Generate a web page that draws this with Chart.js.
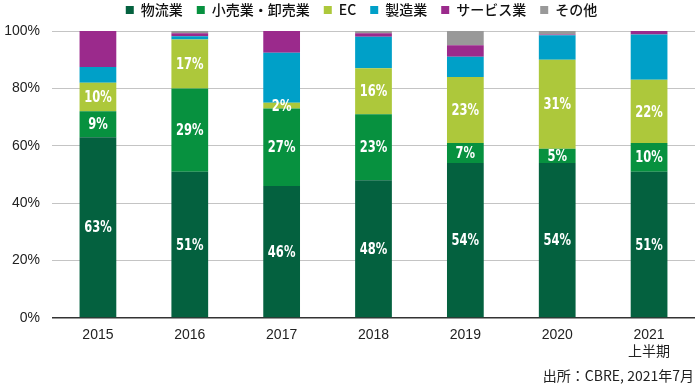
<!DOCTYPE html>
<html>
<head>
<meta charset="utf-8">
<script src="https://cdn.jsdelivr.net/npm/chart.js@4"></script>
<style>
  html, body { margin: 0; padding: 0; background: #fff; }
  #wrap { position: relative; width: 700px; height: 388px; }
  #source {
    position: absolute; right: 6px; top: 366px;
    font: 14px "Noto Sans CJK JP", "Liberation Sans", sans-serif;
    color: #222; line-height: 18px;
  }
</style>
</head>
<body>
<div id="wrap">
  <canvas id="shareChart" width="700" height="388"></canvas>
  <div id="source">出所：CBRE, 2021年7月</div>
</div>
<script>
// 用途別の割合（%）
const years = ["2015", "2016", "2017", "2018", "2019", "2020", ["2021", "上半期"]];
const logistics = [63, 51, 46, 48, 54, 54, 51];
const retail = [9, 29, 27, 23, 7, 5, 10];
const ecommerce = [10, 17, 2, 16, 23, 31, 22];
const manufacturing = [5.5, 1.2, 17.4, 11, 7, 8.5, 15.8];
const services = [12.5, 1, 7.6, 1.2, 4, 0.3, 1.2];
const others = [0, 0.8, 0, 0.8, 5, 1.2, 0];
const yTicks = [0, 20, 40, 60, 80, 100];

const seriesNames = ["物流業", "小売業・卸売業", "EC", "製造業", "サービス業", "その他"];
const seriesData = [logistics, retail, ecommerce, manufacturing, services, others];
const colors = ["#04613f", "#07913f", "#adc83b", "#00a0c8", "#9b2a8c", "#999999"];
const labelled = 3; // 物流業・小売業・EC だけ数値を表示

const cjk = "'Noto Sans CJK JP', 'Liberation Sans', sans-serif";

const barLabels = {
    id: "barLabels",
    afterDatasetsDraw(chart) {
        const ctx = chart.ctx;
        ctx.save();
        ctx.fillStyle = "#fff";
        ctx.font = "bold 16px 'DejaVu Sans Condensed', 'Liberation Sans', sans-serif";
        ctx.textAlign = "center";
        ctx.textBaseline = "middle";
        for (let d = 0; d < labelled; d++) {
            const meta = chart.getDatasetMeta(d);
            meta.data.forEach((bar, i) => {
                const p = bar.getProps(["x", "y", "base"], true);
                const v = chart.data.datasets[d].data[i];
                ctx.save();
                ctx.translate(p.x, (p.y + p.base) / 2 + 1);
                ctx.scale(0.8, 1);
                ctx.fillText(Math.round(v) + "%", 0, 0);
                ctx.restore();
            });
        }
        ctx.restore();
    }
};

// 凡例を上に詰めて少し右へ
const legendFit = {
    id: "legendFit",
    beforeInit(chart) {
        const lg = chart.legend;
        const fit = lg.fit;
        lg.fit = function () {
            fit.call(this);
            this.height = 31;
        };
        const draw = lg.draw;
        lg.draw = function () {
            this.ctx.save();
            this.ctx.translate(14, -11);
            draw.apply(this, arguments);
            this.ctx.restore();
        };
    }
};

new Chart(document.getElementById("shareChart"), {
    type: "bar",
    data: {
        labels: years,
        datasets: seriesNames.map((name, i) => ({
            label: name,
            data: seriesData[i],
            backgroundColor: colors[i],
            borderWidth: 0,
            barPercentage: 0.4,
            categoryPercentage: 1
        }))
    },
    options: {
        responsive: false,
        animation: false,
        layout: { padding: { right: 5 } },
        plugins: {
            legend: {
                position: "top",
                labels: {
                    boxWidth: 8,
                    boxHeight: 8,
                    padding: 14,
                    color: "#111",
                    font: { size: 14, family: cjk, weight: "500" }
                }
            },
            tooltip: { enabled: false }
        },
        scales: {
            x: {
                stacked: true,
                grid: { display: false },
                border: { display: false },
                ticks: {
                    color: "#222",
                    padding: 1,
                    font: { size: 14, family: "'Liberation Sans', " + cjk },
                    maxRotation: 0
                },
                afterFit(s) { s.height = 70; }
            },
            y: {
                stacked: true,
                min: 0,
                max: 100,
                afterBuildTicks(s) { s.ticks = yTicks.map(v => ({ value: v })); },
                grid: {
                    drawTicks: false,
                    color: c => c.tick && c.tick.value === 0 ? "#333" : "#c4c4c4",
                    lineWidth: c => c.tick && c.tick.value === 0 ? 1.5 : 1
                },
                border: { display: false },
                ticks: {
                    color: "#222",
                    padding: 12,
                    font: { size: 14, family: "'Liberation Sans', sans-serif" },
                    callback: v => v + "%"
                },
                afterFit(s) { s.width = 52; }
            }
        }
    },
    plugins: [barLabels, legendFit]
});
</script>
</body>
</html>
